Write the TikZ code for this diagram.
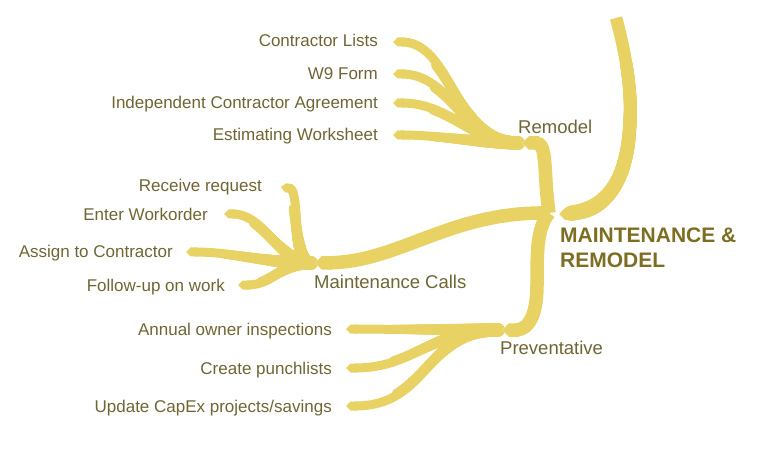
\documentclass[tikz,border=0pt]{standalone}
\usepackage{fontspec}
\setmainfont{Liberation Sans}
\usetikzlibrary{arrows.meta,decorations.markings}
\definecolor{br}{HTML}{E8D264}
\definecolor{lt}{HTML}{6F6534}
\definecolor{rt}{HTML}{7D6E22}
\begin{document}
\begin{tikzpicture}[x=1pt,y=-1pt,
  leaf/.style={text=lt, font=\fontsize{17}{20}\selectfont, anchor=base east, inner sep=0},
  blabel/.style={text=lt, font=\fontsize{18.5}{22}\selectfont, anchor=base west, inner sep=0},
  twigtaper/.style={postaction={decorate, decoration={markings,
    mark=between positions 0 and 0.7 step 1pt with {%
      \pgfmathsetmacro\rr{4.5+2.3*(1-\pgfkeysvalueof{/pgf/decoration/mark info/distance from start}/(0.7*\pgfdecoratedpathlength))}%
      \fill[br] (0,0) circle[radius=\rr pt];}}}},
  twig/.style={draw=br, line width=9, -{Triangle Cap[]}, twigtaper},
  trunk/.style={draw=br, line width=13.5, -{Triangle Cap[]}},
  gap/.style={draw=white, line width=16.5, -{Triangle Cap[]}},
  rootline/.style={draw=br, line width=12.5, -{Triangle Cap[]},
    postaction={decorate, decoration={markings,
    mark=between positions 0.2 and 0.95 step 1pt with {%
      \pgfmathsetmacro\rr{6.25+1.4*(\pgfkeysvalueof{/pgf/decoration/mark info/distance from start}/\pgfdecoratedpathlength-0.2)/0.75}%
      \fill[br] (0,0) circle[radius=\rr pt];}}}}]
\useasboundingbox (0,0) rectangle (782,449);

% junction coordinates
\coordinate (hub) at (549,213);
\coordinate (hubr) at (559,214);
\coordinate (top) at (616,18);
\coordinate (rj) at (522,143);
\coordinate (rjc) at (518,143);
\coordinate (mj) at (315,263);
\coordinate (mjc) at (311,263);
\coordinate (pj) at (502,330);
\coordinate (pjc) at (498,330);

% leaf tips
\coordinate (t1) at (393,42);
\coordinate (t2) at (393,74);
\coordinate (t3) at (393,103);
\coordinate (t4) at (393,135);
\coordinate (t5) at (281,187);
\coordinate (t6) at (224,214);
\coordinate (t7) at (186,252);
\coordinate (t8) at (238,285);
\coordinate (t9) at (346,329);
\coordinate (t10) at (346,368);
\coordinate (t11) at (346,406);

% texts
\node[leaf] (cl) at (378,47) {Contractor Lists};
\node[leaf] (w9) at (378,80) {W9 Form};
\node[leaf] (ica) at (378,109) {Independent Contractor Agreement};
\node[leaf] (ew) at (378,141) {Estimating Worksheet};
\node[leaf] (rr) at (262,192) {Receive request};
\node[leaf] (eo) at (208,221) {Enter Workorder};
\node[leaf] (ac) at (173,258) {Assign to Contractor};
\node[leaf] (fu) at (225,291) {Follow-up on work};
\node[leaf] (ao) at (332,335) {Annual owner inspections};
\node[leaf] (cp) at (332,374) {Create punchlists};
\node[leaf] (uc) at (332,412) {Update CapEx projects/savings};

\node[blabel] (remodel) at (518,134) {Remodel};
\node[blabel] (maint) at (314,288) {Maintenance Calls};
\node[blabel] (prev) at (500,354) {Preventative};
\node[text=rt, font=\fontsize{21}{25}\selectfont\bfseries, align=left, anchor=west, inner sep=0] (root) at (560,248) {MAINTENANCE \&\\REMODEL};

% twigs
\path[twig] (rjc) .. controls (455,143) and (452,42) .. (t1);
\path[twig] (rjc) .. controls (465,143) and (452,74) .. (t2);
\path[twig] (rjc) .. controls (475,143) and (450,103) .. (t3);
\path[twig] (rjc) .. controls (480,143) and (440,135) .. (t4);
\path[twig] (mjc) .. controls (292,263) and (300,190) .. (t5);
\path[twig] (mjc) .. controls (280,263) and (265,214) .. (t6);
\path[twig] (mjc) .. controls (265,263) and (235,252) .. (t7);
\path[twig] (mjc) .. controls (280,263) and (275,285) .. (t8);
\path[twig] (pjc) -- (t9);
\path[twig] (pjc) .. controls (430,330) and (415,368) .. (t10);
\path[twig] (pjc) .. controls (425,330) and (430,406) .. (t11);

% trunks: white outline first, cutting the twig roots, then the trunks
\path[gap] (hub) .. controls (543,170) and (548,143) .. (rj);
\path[gap] (hub) .. controls (450,211) and (400,262) .. (mj);
\path[gap] (hub) .. controls (537,228) and (537,250) .. (537,285) .. controls (537,326) and (522,330) .. (pj);
\path[trunk] (hub) .. controls (543,170) and (548,143) .. (rj);
\path[trunk] (hub) .. controls (450,211) and (400,262) .. (mj);
\path[trunk] (hub) .. controls (537,228) and (537,250) .. (537,285) .. controls (537,326) and (522,330) .. (pj);

% root branch
\path[gap, line width=17] (top) .. controls (625,50) and (632,90) .. (630,120) .. controls (628,190) and (600,214) .. (hubr);
\path[rootline] (top) .. controls (625,50) and (632,90) .. (630,120) .. controls (628,190) and (600,214) .. (hubr);
\end{tikzpicture}
\end{document}
